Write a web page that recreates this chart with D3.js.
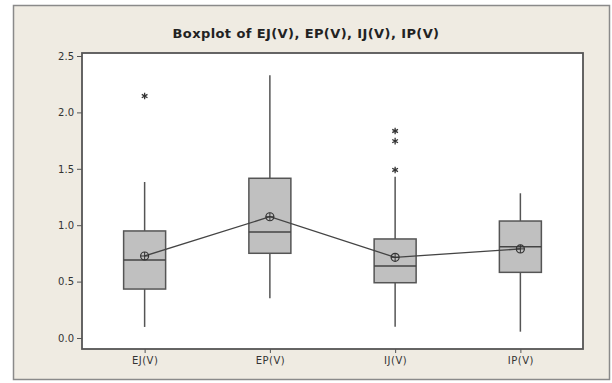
<!DOCTYPE html>
<html><head><meta charset="utf-8">
<script src="https://cdn.jsdelivr.net/npm/d3@7"></script>
<style>body{margin:0;background:#fff}svg{display:block}</style>
</head><body>
<svg id="c" width="612" height="383"></svg>
<script>
const categories = ["EJ(V)", "EP(V)", "IJ(V)", "IP(V)"];
const q1 = [0.434, 0.751, 0.490, 0.582];
const medians = [0.691, 0.940, 0.638, 0.810];
const q3 = [0.949, 1.416, 0.878, 1.037];
const whiskerLow = [0.098, 0.352, 0.100, 0.056];
const whiskerHigh = [1.383, 2.330, 1.430, 1.283];
const means = [0.727, 1.075, 0.715, 0.790];
const outliers = [[2.145], [], [1.835, 1.745, 1.490], []];
const yTicks = [0.0, 0.5, 1.0, 1.5, 2.0, 2.5];
const title = "Boxplot of EJ(V), EP(V), IJ(V), IP(V)";

const svg = d3.select("#c");
const plot = {left: 82, right: 583, top: 53, bottom: 349};
const x = d3.scalePoint().domain(categories).range([plot.left, plot.right]).padding(0.5);
const y = d3.scaleLinear().domain([0, 2.5]).range([338, 56]);
const boxW = 42;
const font = "Tahoma, 'DejaVu Sans', Verdana, sans-serif";

svg.append("rect").attr("x", 13.5).attr("y", 5.5).attr("width", 596).attr("height", 374)
  .attr("fill", "#efebe2").attr("stroke", "#8a8a8a").attr("stroke-width", 1.5);
svg.append("rect").attr("x", plot.left).attr("y", plot.top).attr("width", plot.right - plot.left).attr("height", plot.bottom - plot.top)
  .attr("fill", "#ffffff").attr("stroke", "#555").attr("stroke-width", 1.8);

svg.append("text").attr("x", 306).attr("y", 38).attr("text-anchor", "middle")
  .attr("font-family", font).attr("font-weight", "bold").attr("font-size", 13)
  .attr("letter-spacing", 0.4).attr("fill", "#222").text(title);

// axes
const yAxis = svg.append("g").attr("transform", `translate(${plot.left},0)`)
  .call(d3.axisLeft(y).tickValues(yTicks).tickFormat(d3.format(".1f")).tickSize(5).tickPadding(3));
const xAxis = svg.append("g").attr("transform", `translate(0,${plot.bottom})`)
  .call(d3.axisBottom(x).tickSize(4).tickPadding(4));
[yAxis, xAxis].forEach(a => {
  a.select(".domain").remove();
  a.selectAll(".tick line").attr("stroke", "#555");
  a.selectAll(".tick text").attr("font-family", font).attr("font-size", 10).attr("fill", "#333");
});
xAxis.selectAll(".tick text").attr("letter-spacing", 0.5);

const g = svg.append("g");
categories.forEach((c, i) => {
  const cx = x(c);
  g.append("line").attr("x1", cx).attr("x2", cx).attr("y1", y(q3[i])).attr("y2", y(whiskerHigh[i])).attr("stroke", "#555").attr("stroke-width", 1.5);
  g.append("line").attr("x1", cx).attr("x2", cx).attr("y1", y(q1[i])).attr("y2", y(whiskerLow[i])).attr("stroke", "#555").attr("stroke-width", 1.5);
  g.append("rect").attr("x", cx - boxW / 2).attr("y", y(q3[i])).attr("width", boxW).attr("height", y(q1[i]) - y(q3[i]))
    .attr("fill", "#c0c0c0").attr("stroke", "#555").attr("stroke-width", 1.5);
  g.append("line").attr("x1", cx - boxW / 2).attr("x2", cx + boxW / 2).attr("y1", y(medians[i])).attr("y2", y(medians[i])).attr("stroke", "#444").attr("stroke-width", 1.5);
  outliers[i].forEach(v => {
    g.append("path").attr("transform", `translate(${cx},${y(v)})`)
      .attr("d", d3.symbol(d3.symbolAsterisk, 30)()).attr("fill", "none").attr("stroke", "#333").attr("stroke-width", 1.3);
  });
});

const line = d3.line().x((d, i) => x(categories[i])).y(d => y(d));
g.append("path").attr("d", line(means)).attr("fill", "none").attr("stroke", "#444").attr("stroke-width", 1.3);
means.forEach((m, i) => {
  const cx = x(categories[i]), cy = y(m);
  g.append("circle").attr("cx", cx).attr("cy", cy).attr("r", 4).attr("fill", "none").attr("stroke", "#333").attr("stroke-width", 1.2);
  g.append("line").attr("x1", cx - 4).attr("x2", cx + 4).attr("y1", cy).attr("y2", cy).attr("stroke", "#333").attr("stroke-width", 1);
  g.append("line").attr("x1", cx).attr("x2", cx).attr("y1", cy - 4).attr("y2", cy + 4).attr("stroke", "#333").attr("stroke-width", 1);
});
</script>
</body></html>
